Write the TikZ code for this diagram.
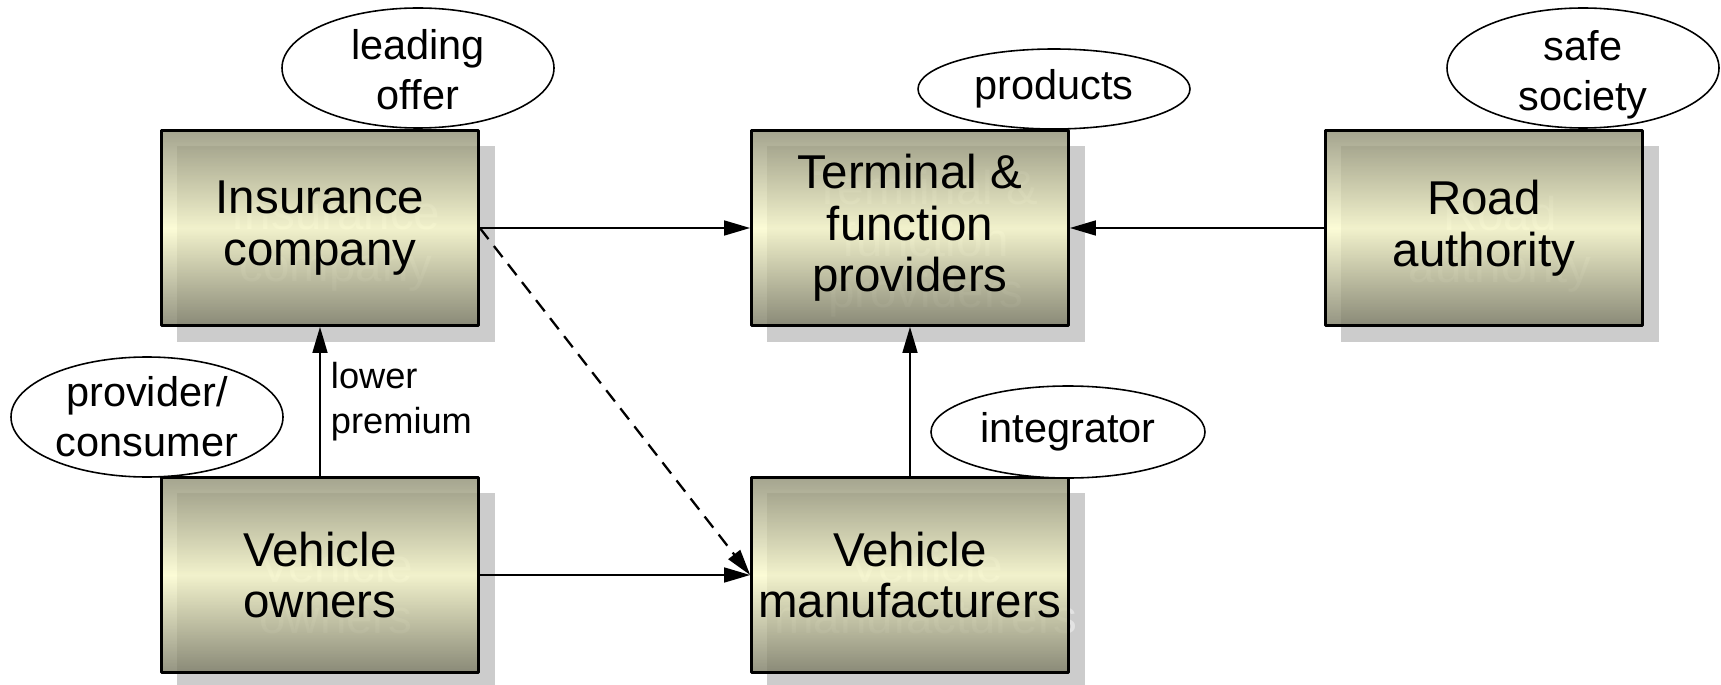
\documentclass[tikz,border=0pt]{standalone}
\usepackage{fontspec}
\setmainfont{Liberation Sans}
\usetikzlibrary{arrows.meta}
\definecolor{shadowgray}{HTML}{CCCCCC}
\definecolor{ghostgray}{HTML}{E2E2E2}
\definecolor{boxtop}{HTML}{8E8E73}
\definecolor{boxmid}{HTML}{FBFBCC}
\definecolor{boxbot}{HTML}{7A7A63}
% box with its grey shadow: name, x, y, text
\newcommand{\actor}[4]{%
	\fill[shadowgray] (#2-143,#3-82) rectangle (#2+175,#3+114);
	\node[ghost] at (#2+16,#3+16) {#4};
	\node[actorbox] (#1) at (#2,#3) {#4};
}
\begin{document}
\begin{tikzpicture}[x=0.01cm,y=-0.01cm,>={Triangle[length=7.4pt,width=4.2pt]},line join=round,
	actorbox/.style={draw=black,line width=0.9pt,minimum width=90pt,minimum height=55.3pt,inner sep=0pt,align=center,
		top color=boxtop,bottom color=boxbot,middle color=boxmid,fill opacity=0.8,text opacity=1,
		font=\fontsize{13.5}{14.7}\selectfont},
	ghost/.style={align=center,text=ghostgray,inner sep=0pt,font=\fontsize{13.5}{14.7}\selectfont},
	role/.style={draw=black,line width=0.45pt,fill=white},
	roletext/.style={align=center,inner sep=0pt,font=\fontsize{11.8}{14.2}\selectfont},
	note/.style={align=left,inner sep=2.8pt,font=\fontsize{10.3}{12.8}\selectfont},
	flow/.style={->,line width=0.65pt}]
	\useasboundingbox (0,0) rectangle (1721,685);
	\actor{insurer}{320}{228}{Insurance\\company}
	\actor{terminal}{910}{228}{Terminal \&\\function\\providers}
	\actor{road}{1484}{228}{Road\\authority}
	\actor{owners}{320}{575}{Vehicle\\owners}
	\actor{maker}{910}{575}{Vehicle\\manufacturers}
	% roles
	\draw[role] (418,68) ellipse [x radius=136,y radius=60] node[roletext,yshift=-0.5pt] (offer) {leading\\offer};
	\draw[role] (1054,89) ellipse [x radius=136,y radius=40] node[roletext] (products) {products};
	\draw[role] (1583,68) ellipse [x radius=136,y radius=60] node[roletext,yshift=-2pt] (society) {safe\\society};
	\draw[role] (147,417) ellipse [x radius=136,y radius=60] node[roletext] (prosumer) {provider/\\consumer};
	\draw[role] (1068,432) ellipse [x radius=137,y radius=46] node[roletext] (integrator) {integrator};
	% flows
	\draw[flow] (insurer) -- (terminal);
	\draw[flow] (road) -- (terminal);
	\draw[flow] (owners) -- node[note,right] {lower\\premium} (insurer);
	\draw[flow] (maker) -- (terminal);
	\draw[flow] (owners) -- (maker);
	\draw[flow,dash pattern=on 4pt off 2.5pt] (insurer.east) -- (maker.west);
\end{tikzpicture}
\end{document}
